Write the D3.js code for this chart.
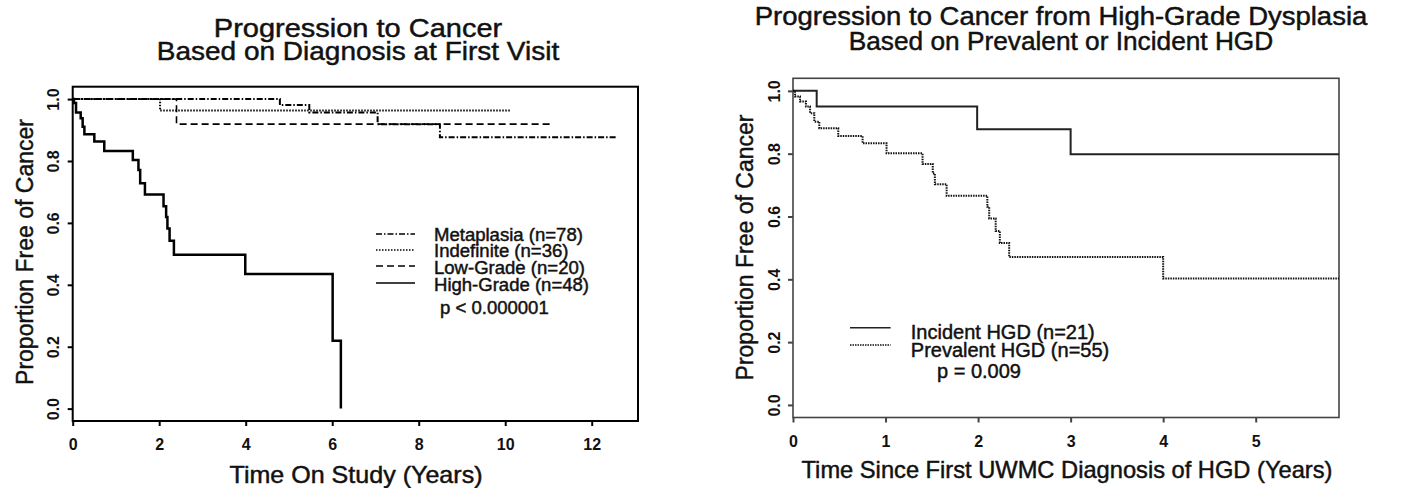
<!DOCTYPE html>
<html><head><meta charset="utf-8">
<script src="https://cdn.jsdelivr.net/npm/d3@7"></script>
<style>body{margin:0;background:#fff}svg{display:block}</style>
</head><body><svg id="c" width="1401" height="488"></svg>
<script>
// ---------- DATA ----------
const leftXTicks = [0, 2, 4, 6, 8, 10, 12];
const leftYTicks = [0.0, 0.2, 0.4, 0.6, 0.8, 1.0];
const rightXTicks = [0, 1, 2, 3, 4, 5];
const rightYTicks = [0.0, 0.2, 0.4, 0.6, 0.8, 1.0];

const leftSeriesNames = ["Metaplasia (n=78)", "Indefinite (n=36)", "Low-Grade (n=20)", "High-Grade (n=48)"];
const metaplasiaTime = [0, 4.79, 5.47, 7.05, 8.49, 12.6];
const metaplasiaSurv = [1, 0.981, 0.957, 0.919, 0.877, 0.877];
const indefiniteTime = [0, 2.02, 10.11];
const indefiniteSurv = [1, 0.963, 0.963];
const lowGradeTime = [0, 2.40, 11.11];
const lowGradeSurv = [1, 0.919, 0.919];
const highGradeTime = [0, 0.03, 0.077, 0.185, 0.23, 0.27, 0.5, 0.73, 1.39, 1.52, 1.56, 1.67, 2.1, 2.16, 2.19, 2.24, 2.34, 3.99, 6.01, 6.2];
const highGradeSurv = [1, 0.987, 0.957, 0.938, 0.911, 0.886, 0.863, 0.832, 0.803, 0.771, 0.728, 0.692, 0.654, 0.619, 0.582, 0.542, 0.497, 0.435, 0.219, 0];
const leftPText = "p < 0.000001";

const rightSeriesNames = ["Incident HGD (n=21)", "Prevalent HGD (n=55)"];
const incidentTime = [0, 0.256, 1.99, 3.0, 5.9];
const incidentSurv = [1, 0.95, 0.878, 0.798, 0.798];
const prevalentTime = [0, 0.022, 0.076, 0.14, 0.184, 0.23, 0.284, 0.489, 0.752, 1.011, 1.40, 1.51, 1.533, 1.66, 2.10, 2.12, 2.19, 2.235, 2.336, 4.0, 5.9];
const prevalentSurv = [1, 0.982, 0.966, 0.95, 0.929, 0.902, 0.881, 0.856, 0.833, 0.801, 0.767, 0.737, 0.703, 0.666, 0.631, 0.594, 0.554, 0.516, 0.471, 0.4025, 0.4025];
const rightPText = "p = 0.009";

const leftTitle = ["Progression to Cancer", "Based on Diagnosis at First Visit"];
const rightTitle = ["Progression to Cancer from High-Grade Dysplasia", "Based on Prevalent or Incident HGD"];
const yTitle = "Proportion Free of Cancer";
const leftXTitle = "Time On Study (Years)";
const rightXTitle = "Time Since First UWMC Diagnosis of HGD (Years)";

// ---------- DRAWING ----------
const FONT = "'Liberation Sans', Arial, Helvetica, sans-serif";
const svg = d3.select("#c").style("font-family", FONT);
const zip = (t, s) => t.map((v, i) => [v, s[i]]);
const heavy = sel => sel.attr("stroke", "#111").attr("stroke-width", 0.45).attr("paint-order", "stroke");

function drawPanel(p) {
  const x = d3.scaleLinear().domain(p.xDomain).range([p.left, p.right]);
  const y = d3.scaleLinear().domain([-0.04, 1.04]).range([p.bottom, p.top]);
  const g = svg.append("g");

  // titles
  p.title.forEach((t, i) => {
    g.append("text")
      .attr("transform", `translate(${p.titleX},${p.titleY[i]}) scale(${p.titleSx[i]},1)`)
      .attr("text-anchor", "middle").attr("font-size", 25).attr("fill", "#111").text(t)
      .call(heavy);
  });

  // x axis
  const xa = g.append("g").attr("transform", `translate(0,${p.bottom})`)
    .call(d3.axisBottom(x).tickValues(p.xTicks).tickSize(5).tickFormat(d3.format("d")));
  xa.select(".domain").remove();
  xa.selectAll("line").attr("stroke", p.frameColor).attr("stroke-width", 2);
  xa.selectAll("text").attr("y", p.xLabelOff).attr("dy", 0)
    .attr("font-size", 16).attr("font-weight", "bold").attr("fill", "#111")
    .attr("font-family", FONT);

  // y axis
  const ya = g.append("g").attr("transform", `translate(${p.left},0)`)
    .call(d3.axisLeft(y).tickValues(p.yTicks).tickSize(5).tickFormat(d3.format(".1f")));
  ya.select(".domain").remove();
  ya.selectAll("line").attr("stroke", p.frameColor).attr("stroke-width", 2);
  ya.selectAll("text").attr("x", 0).attr("y", -13.5).attr("dy", 0)
    .attr("transform", "rotate(-90)").attr("text-anchor", "middle")
    .attr("font-size", 16).attr("font-weight", "bold").attr("fill", "#111")
    .attr("font-family", FONT);

  // frame
  g.append("rect").attr("x", p.left).attr("y", p.top)
    .attr("width", p.right - p.left).attr("height", p.bottom - p.top)
    .attr("fill", "none").attr("stroke", p.frameColor).attr("stroke-width", p.frameWidth);

  // axis titles
  g.append("text")
    .attr("transform", `translate(${p.xTitleX},${p.xTitleY}) scale(${p.xTitleSx},1)`)
    .attr("text-anchor", "middle").attr("font-size", 23).attr("fill", "#111").text(p.xTitle)
    .call(heavy);
  g.append("text")
    .attr("transform", `translate(${p.yTitleX},${p.yTitleY}) rotate(-90)`)
    .attr("text-anchor", "middle").attr("font-size", 23).attr("fill", "#111").text(yTitle)
    .call(heavy);

  // curves
  const line = d3.line().x(d => x(d[0])).y(d => y(d[1])).curve(d3.curveStepAfter);
  p.series.forEach(s => {
    g.append("path").attr("d", line(s.data)).attr("fill", "none")
      .attr("stroke", s.color).attr("stroke-width", s.width)
      .attr("stroke-dasharray", s.dash || null);
  });

  // legend
  p.series.forEach((s, i) => {
    const ly = p.legendLineY[i];
    g.append("line").attr("x1", p.legendX1).attr("x2", p.legendX2)
      .attr("y1", ly).attr("y2", ly).attr("stroke", s.color).attr("stroke-width", 1.5)
      .attr("stroke-dasharray", s.dash || null);
    g.append("text")
      .attr("transform", `translate(${p.legendTextX},${p.legendTextY[i]}) scale(${p.legendSx},1)`)
      .attr("font-size", p.legendFont).attr("fill", "#111").text(s.name).call(heavy);
  });
  g.append("text")
    .attr("transform", `translate(${p.pX},${p.pY}) scale(${p.legendSx},1)`)
    .attr("font-size", p.legendFont).attr("fill", "#111").text(p.pText).call(heavy);
}

drawPanel({
  left: 72.7, right: 638, top: 86.7, bottom: 421,
  xDomain: [0, 13.07], xTicks: leftXTicks, yTicks: leftYTicks,
  frameColor: "#000", frameWidth: 2,
  title: leftTitle, titleX: 358, titleY: [36.5, 60], titleSx: [1.16, 1.12],
  xLabelOff: 29,
  xTitle: leftXTitle, xTitleX: 356, xTitleY: 483, xTitleSx: 1.09,
  yTitleX: 33, yTitleY: 252,
  series: [
    { name: leftSeriesNames[0], data: zip(metaplasiaTime, metaplasiaSurv), color: "#000", width: 2, dash: "6,2,1.5,2" },
    { name: leftSeriesNames[1], data: zip(indefiniteTime, indefiniteSurv), color: "#000", width: 2, dash: "1.5,1.5" },
    { name: leftSeriesNames[2], data: zip(lowGradeTime, lowGradeSurv), color: "#000", width: 1.6, dash: "7,4" },
    { name: leftSeriesNames[3], data: zip(highGradeTime, highGradeSurv), color: "#000", width: 2.5 }
  ],
  legendX1: 376, legendX2: 415, legendLineY: [234, 250, 266, 283],
  legendTextX: 434, legendTextY: [240.7, 257.4, 274.1, 291], legendFont: 17.5, legendSx: 1.06,
  pText: leftPText, pX: 440, pY: 314
});

drawPanel({
  left: 793, right: 1339, top: 78.3, bottom: 417.5,
  xDomain: [0, 5.9], xTicks: rightXTicks, yTicks: rightYTicks,
  frameColor: "#444", frameWidth: 1.6,
  title: rightTitle, titleX: 1061, titleY: [25, 50], titleSx: [1.1, 1.05],
  xLabelOff: 29.5,
  xTitle: rightXTitle, xTitleX: 1067, xTitleY: 478, xTitleSx: 1.03,
  yTitleX: 753, yTitleY: 247.5,
  series: [
    { name: rightSeriesNames[0], data: zip(incidentTime, incidentSurv), color: "#222", width: 2 },
    { name: rightSeriesNames[1], data: zip(prevalentTime, prevalentSurv), color: "#111", width: 2, dash: "1.5,1" }
  ],
  legendX1: 850, legendX2: 890.6, legendLineY: [327.7, 345],
  legendTextX: 910.8, legendTextY: [339, 357], legendFont: 20, legendSx: 1.0,
  pText: rightPText, pX: 937, pY: 378
});
</script></body></html>
